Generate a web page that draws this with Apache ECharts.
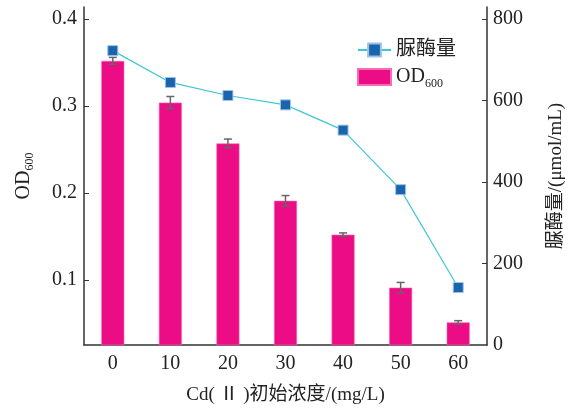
<!DOCTYPE html>
<html>
<head>
<meta charset="utf-8">
<script src="https://cdn.jsdelivr.net/npm/echarts@6/dist/echarts.min.js"></script>
<style>
  html, body { margin: 0; padding: 0; background: #fff; }
  #chart { width: 572px; height: 410px; }
</style>
</head>
<body>
<div id="chart"></div>
<script>
// Cd(II) 初始浓度
var categories = ['0', '10', '20', '30', '40', '50', '60']
// OD600 柱 + 误差
var od600 = [0.352, 0.304, 0.257, 0.191, 0.152, 0.091, 0.051]
var odErr = [0.004, 0.007, 0.005, 0.006, 0.002, 0.006, 0.002]
// 脲酶量 (μmol/mL)
var urease = [722, 644, 612, 589, 527, 381, 141]
// 刻度
var leftTicks = [0.1, 0.2, 0.3, 0.4]
var rightTicks = [0, 200, 400, 600, 800]

var serif = '"Liberation Serif", "Times New Roman", "Noto Sans CJK SC", serif'
var axisColor = '#333'

var chart = echarts.init(document.getElementById('chart'))

var errData = od600.map(function (v, i) {
  return [i, v - odErr[i], v + odErr[i]]
})

var option = {
  animation: false,
  grid: {
    left: 84,
    right: 85,
    top: 7,
    bottom: 65,
    outerBoundsMode: 'none'
  },
  legend: {
    orient: 'vertical',
    left: 352,
    top: 35,
    itemWidth: 33,
    itemHeight: 16,
    itemGap: 7,
    data: [{ name: '脲酶量' }, { name: 'OD600', icon: 'rect' }],
    formatter: function (name) {
      if (name === 'OD600') return '{a|OD}{s|600}'
      return '{a|' + name + '}'
    },
    textStyle: {
      color: '#222',
      rich: {
        a: { fontSize: 20, fontFamily: serif, color: '#222' },
        s: { fontSize: 12, fontFamily: serif, color: '#222', verticalAlign: 'bottom', padding: [14, 0, 0, 0] }
      }
    }
  },
  xAxis: [{
    type: 'category',
    data: categories,
    name: 'Cd( Ⅱ )初始浓度/(mg/L)',
    nameLocation: 'middle',
    nameGap: 41,
    nameTextStyle: { fontSize: 19, fontFamily: serif, color: '#222' },
    axisLine: { lineStyle: { color: axisColor, width: 1.5 } },
    axisTick: { show: false },
    axisLabel: { fontSize: 20, fontFamily: serif, color: '#222', margin: 9 }
  }],
  yAxis: [{
    type: 'value',
    min: 0.025,
    max: 0.414,
    name: '{a|OD}{s|600}',
    nameLocation: 'middle',
    nameRotate: 90,
    nameGap: 48,
    nameTextStyle: {
      rich: {
        a: { fontSize: 20, fontFamily: serif, color: '#222' },
        s: { fontSize: 12, fontFamily: serif, color: '#222', verticalAlign: 'bottom', padding: [12, 0, 0, 0] }
      }
    },
    splitLine: { show: false },
    axisLine: { show: true, lineStyle: { color: axisColor, width: 1.5 } },
    axisTick: { show: true, inside: true, length: 5, customValues: leftTicks },
    axisLabel: {
      fontSize: 20, fontFamily: serif, color: '#222', margin: 7,
      customValues: leftTicks,
      formatter: function (v) { return v.toFixed(1) }
    }
  }, {
    type: 'value',
    min: 0,
    max: 829,
    name: '脲酶量/(μmol/mL)',
    nameLocation: 'middle',
    nameRotate: 90,
    nameGap: 60,
    nameTextStyle: { fontSize: 19, fontFamily: serif, color: '#222' },
    splitLine: { show: false },
    axisLine: { show: true, lineStyle: { color: axisColor, width: 1.5 } },
    axisTick: { show: true, inside: true, length: 5, customValues: rightTicks.slice(1) },
    axisLabel: {
      fontSize: 20, fontFamily: serif, color: '#222', margin: 6,
      customValues: rightTicks
    }
  }],
  series: [{
    name: 'OD600',
    type: 'bar',
    yAxisIndex: 0,
    barWidth: '40%',
    data: od600,
    itemStyle: { color: '#EC0C86', borderColor: '#F46DB4', borderWidth: 0.6 },
    z: 2
  }, {
    name: 'err',
    type: 'custom',
    yAxisIndex: 0,
    data: errData,
    encode: { x: 0, y: [1, 2] },
    renderItem: function (params, api) {
      var lo = api.coord([api.value(0), api.value(1)])
      var hi = api.coord([api.value(0), api.value(2)])
      var w = 4
      var style = { stroke: '#666', lineWidth: 1.5 }
      return {
        type: 'group',
        children: [
          { type: 'line', shape: { x1: lo[0], y1: lo[1], x2: hi[0], y2: hi[1] }, style: style },
          { type: 'line', shape: { x1: lo[0] - w, y1: lo[1], x2: lo[0] + w, y2: lo[1] }, style: style },
          { type: 'line', shape: { x1: hi[0] - w, y1: hi[1], x2: hi[0] + w, y2: hi[1] }, style: style }
        ]
      }
    },
    z: 3
  }, {
    name: '脲酶量',
    type: 'line',
    yAxisIndex: 1,
    data: urease,
    symbol: 'rect',
    symbolSize: 10,
    lineStyle: { color: '#3EC6D6', width: 1.2 },
    itemStyle: { color: '#1A64AE', borderColor: '#9CC3E6', borderWidth: 1 },
    z: 4
  }]
}

chart.setOption(option)
</script>
</body>
</html>
